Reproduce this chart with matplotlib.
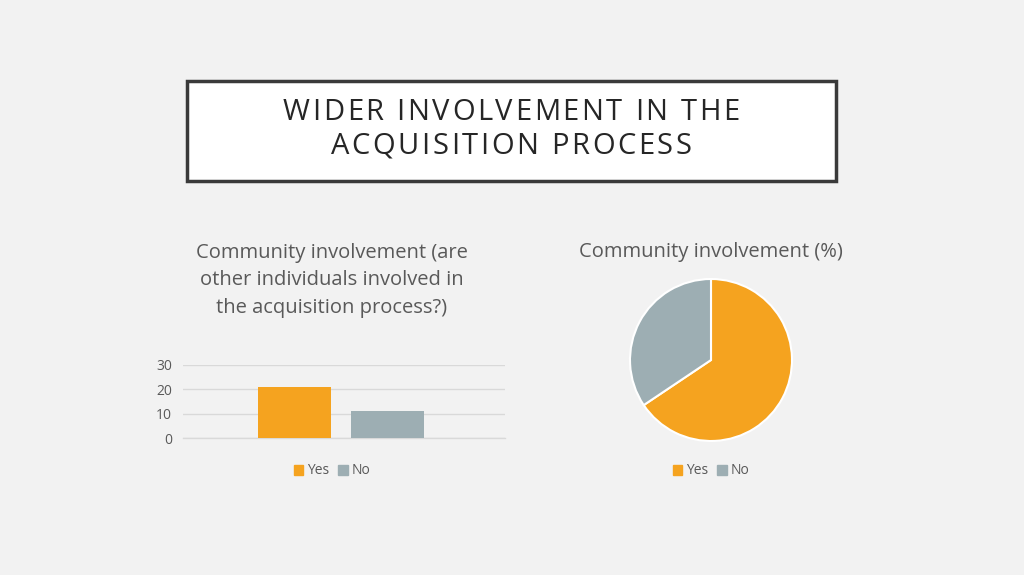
# community involvement slide: bar chart + pie chart

import matplotlib
matplotlib.use('Agg')
import matplotlib.pyplot as plt
from matplotlib.patches import Rectangle

plt.rcParams['font.family'] = ['Open Sans', 'DejaVu Sans']

W, H = 1024, 575

categories = ['Yes', 'No']
counts = [21, 11]
pie_pct = [65.6, 34.4]
yticks = [0, 10, 20, 30]

colors = ['#F5A31F', '#9DAEB3']
text_col = '#595959'
bg = '#F2F2F2'

title_line1 = 'WIDER INVOLVEMENT IN THE'
title_line2 = 'ACQUISITION PROCESS'
bar_title = 'Community involvement (are\nother individuals involved in\nthe acquisition process?)'
pie_title = 'Community involvement (%)'


def fx(px):
    return px / W


def fy(py):
    return 1 - py / H


fig = plt.figure(figsize=(W / 100, H / 100), dpi=100)
fig.patch.set_facecolor(bg)
renderer = fig.canvas.get_renderer()


def text_width(s, **kw):
    t = fig.text(0, 0, s, **kw)
    w = t.get_window_extent(renderer).width
    t.remove()
    return w


def spaced_text(cx, cy, s, track, **kw):
    # draw text centred on cx (px) with extra letter spacing of track px
    pos = []
    for i, ch in enumerate(s):
        if ch == ' ':
            pos.append(None)
            continue
        pos.append(text_width(s[:i + 1], **kw) - text_width(ch, **kw))
    total = text_width(s, **kw) + track * (len(s) - 1)
    x0 = cx - total / 2
    for i, ch in enumerate(s):
        if pos[i] is None:
            continue
        fig.text(fx(x0 + pos[i] + i * track), fy(cy), ch, ha='left', va='center', **kw)


# title box
box = Rectangle((fx(187), fy(181)), fx(836) - fx(187), fy(81) - fy(181),
                transform=fig.transFigure, facecolor='white', edgecolor='#3a3a3a',
                linewidth=2.5)
fig.patches.append(box)
title_kw = dict(fontsize=21, color='#262626')
spaced_text(511, 113, title_line1, 2.6, **title_kw)
spaced_text(511, 146, title_line2, 2.6, **title_kw)

# bar chart
ax1 = fig.add_axes([fx(183), fy(438), fx(505) - fx(183), fy(365) - fy(438)])
ax1.set_facecolor(bg)
x = [0, 1]
ax1.bar(x, counts, width=0.785, color=colors, zorder=3)
ax1.set_xlim(-1.2, 2.26)
ax1.set_ylim(0, 30)
ax1.set_yticks(yticks)
ax1.set_xticks([])
ax1.grid(True, axis='y', color='#D9D9D9', linewidth=1, zorder=0)
ax1.axhline(0, color='#D9D9D9', linewidth=1, zorder=1, clip_on=False)
for s in ax1.spines.values():
    s.set_visible(False)
ax1.tick_params(axis='y', length=0, labelsize=10, labelcolor=text_col, pad=8)

fig.text(fx(332), fy(280), bar_title, ha='center', va='center', fontsize=14.5,
         color=text_col, linespacing=1.5)

# pie chart
ax2 = fig.add_axes([fx(630), fy(441), fx(792) - fx(630), fy(279) - fy(441)])
ax2.pie(pie_pct, colors=colors, startangle=90, counterclock=False,
        wedgeprops=dict(edgecolor='white', linewidth=1.5))
ax2.set_xlim(-1, 1)
ax2.set_ylim(-1, 1)
ax2.set_aspect('equal')
ax2.set_facecolor(bg)

fig.text(fx(711), fy(252), pie_title, ha='center', va='center', fontsize=14.5,
         color=text_col)

# legends
handles = [Rectangle((0, 0), 1, 1, color=c) for c in colors]
for cx in [332, 711]:
    fig.legend(handles, categories, loc='center', bbox_to_anchor=(fx(cx), fy(471)),
               ncol=2, frameon=False, fontsize=10, labelcolor=text_col,
               handlelength=0.7, handleheight=0.7, handletextpad=0.3,
               columnspacing=0.6)

plt.savefig('out.png', dpi=100, facecolor=bg)
